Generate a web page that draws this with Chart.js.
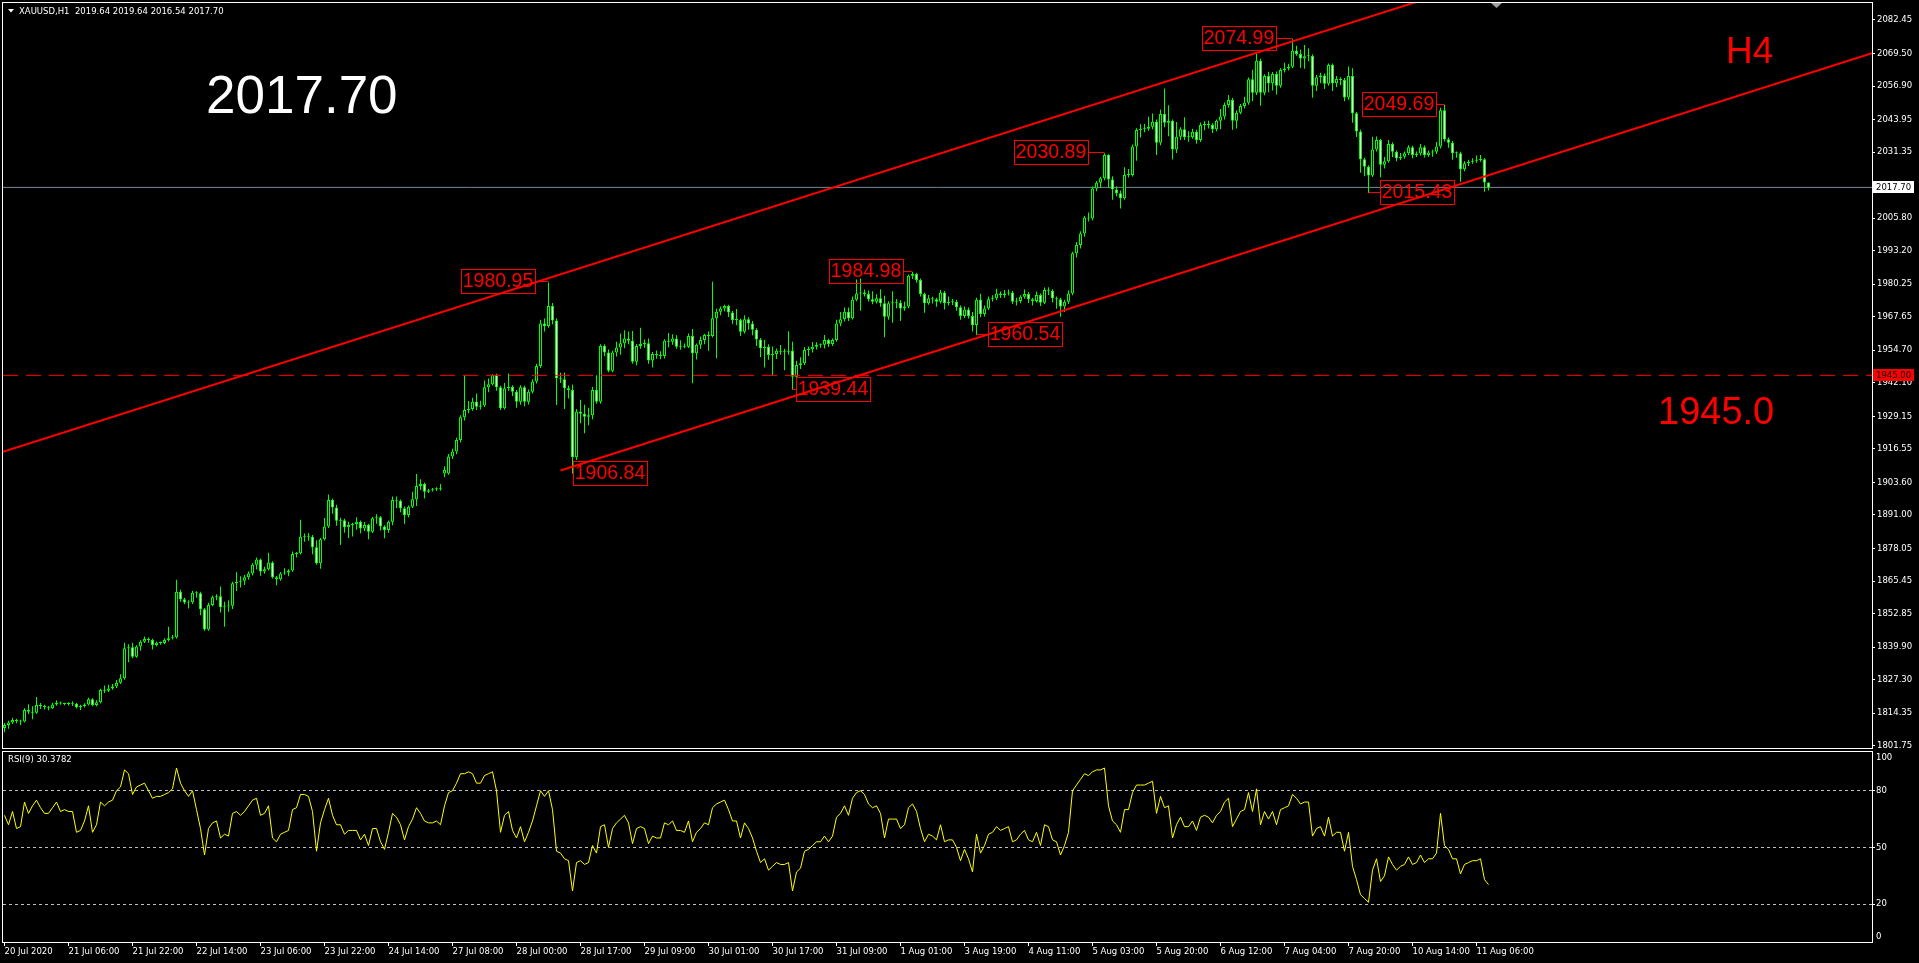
<!DOCTYPE html>
<html>
<head>
<meta charset="utf-8">
<title>XAUUSD,H1</title>
<script src="https://cdn.jsdelivr.net/npm/chart.js@4.4.1/dist/chart.umd.min.js"></script>
<style>
  html, body { margin: 0; padding: 0; background: #000; overflow: hidden; }
  #wrap { position: relative; width: 1919px; height: 963px; }
  #priceChart { position: absolute; left: 0; top: 0; }
  #rsiChart { position: absolute; left: 0; top: 750px; }
</style>
</head>
<body>
<div id="wrap">
  <canvas id="priceChart" width="1919" height="750"></canvas>
  <canvas id="rsiChart" width="1919" height="213"></canvas>
</div>
<script>
// H1 candles, bar 0 = 20 Jul 2020
const opens = [
  1808.6,1809.8,1810.7,1811.7,1811.3,1811.1,1815.6,1814.9,1814.5,1817.5,1817.1,1816.6,
  1816.2,1817.7,1818.4,1818.1,1817.9,1818.1,1818.0,1816.6,1817.1,1817.7,1819.7,1817.5,
  1818.6,1823.3,1823.0,1823.9,1824.6,1826.1,1827.8,1839.4,1839.8,1836.2,1840.1,1842.0,
  1843.0,1842.6,1840.7,1841.6,1841.5,1842.6,1843.3,1843.7,1861.3,1858.4,1857.1,1857.2,
  1860.9,1860.7,1854.5,1846.7,1856.2,1859.2,1859.6,1855.3,1855.6,1855.9,1864.6,1865.2,
  1865.6,1866.9,1868.4,1871.7,1873.8,1869.1,1870.0,1872.6,1866.9,1866.1,1868.4,1868.7,
  1869.5,1875.9,1876.2,1882.6,1882.8,1882.6,1878.5,1872.3,1881.6,1886.5,1896.8,1893.9,
  1888.8,1889.0,1886.2,1887.1,1887.5,1888.4,1885.8,1887.1,1884.5,1889.7,1890.1,1886.5,
  1885.2,1888.4,1896.8,1896.5,1893.6,1891.0,1894.2,1897.1,1902.2,1903.0,1900.0,1900.6,
  1900.9,1901.2,1907.0,1907.0,1913.6,1915.5,1920.0,1928.8,1931.6,1932.0,1934.8,1932.9,
  1933.3,1940.4,1941.6,1945.1,1940.4,1932.3,1940.0,1940.5,1938.7,1934.8,1940.4,1934.8,
  1938.7,1942.6,1948.6,1965.1,1964.1,1971.8,1966.2,1943.9,1943.5,1940.0,1939.3,1913.3,
  1931.0,1930.1,1929.0,1929.6,1939.3,1934.8,1956.4,1953.8,1946.8,1953.8,1955.8,1957.4,
  1959.3,1958.4,1950.3,1956.4,1957.1,1957.4,1950.7,1953.3,1952.9,1952.5,1958.4,1958.0,
  1959.3,1956.1,1956.4,1956.1,1960.2,1953.5,1956.8,1958.7,1960.6,1960.2,1967.1,1969.6,
  1970.9,1971.8,1969.3,1966.4,1966.4,1961.9,1966.7,1965.1,1962.6,1958.9,1955.5,1956.1,
  1952.9,1953.3,1954.5,1954.1,1954.1,1954.5,1944.5,1949.0,1949.7,1954.8,1955.1,1956.1,
  1956.8,1956.8,1958.7,1957.1,1958.7,1965.1,1966.7,1969.6,1967.1,1974.2,1976.7,1977.0,
  1976.5,1974.4,1973.5,1974.8,1972.9,1967.7,1972.9,1973.1,1973.1,1970.9,1971.6,1983.5,
  1984.2,1981.9,1976.5,1972.9,1974.8,1974.4,1973.5,1977.0,1972.9,1973.5,1973.5,1971.3,
  1968.0,1970.5,1968.0,1964.5,1974.2,1968.7,1970.9,1974.4,1974.8,1976.7,1976.1,1976.7,
  1977.0,1973.5,1973.8,1975.4,1976.5,1974.4,1973.8,1976.1,1973.1,1978.0,1977.7,1974.8,
  1974.4,1971.6,1973.5,1976.7,1992.2,1995.4,1999.9,2006.1,2005.7,2017.3,2019.5,2021.2,
  2030.2,2020.8,2016.9,2015.4,2013.5,2022.5,2022.5,2033.5,2039.9,2040.2,2040.4,2041.2,
  2043.1,2035.0,2046.1,2042.7,2043.5,2032.4,2037.3,2040.2,2037.1,2037.1,2039.2,2036.0,
  2041.8,2042.2,2041.8,2040.2,2043.5,2045.1,2049.6,2051.5,2043.5,2046.6,2049.2,2050.4,
  2059.5,2054.3,2066.7,2054.3,2060.8,2058.0,2061.6,2057.0,2063.1,2063.7,2064.4,2070.6,
  2069.3,2067.6,2068.4,2068.5,2057.0,2060.3,2061.0,2057.8,2065.0,2058.0,2059.6,2059.2,
  2052.5,2060.8,2046.4,2039.3,2028.6,2025.7,2022.3,2032.4,2036.0,2026.5,2027.8,2034.5,
  2031.5,2029.0,2029.6,2030.9,2033.2,2030.2,2030.8,2033.2,2030.2,2031.2,2031.5,2033.5,
  2047.5,2036.3,2035.0,2030.9,2030.9,2024.7,2027.0,2027.6,2028.0,2028.3,2028.6,2019.64
];
const highs = [
  1810.5,1811.4,1812.6,1812.2,1811.8,1816.2,1817.8,1817.0,1820.6,1818.3,1817.6,1817.1,
  1818.4,1819.3,1818.8,1818.4,1818.6,1818.9,1818.4,1817.6,1818.2,1820.3,1820.1,1819.3,
  1823.8,1825.0,1825.3,1825.6,1827.2,1829.4,1841.6,1841.0,1841.6,1840.6,1842.5,1844.0,
  1843.6,1843.1,1842.1,1842.1,1843.3,1847.8,1844.6,1865.9,1862.1,1859.0,1858.0,1861.7,
  1861.5,1861.3,1855.0,1857.0,1859.8,1860.3,1863.3,1857.4,1858.0,1865.2,1868.8,1867.3,
  1867.8,1869.1,1872.3,1874.5,1874.2,1871.0,1876.4,1873.1,1867.4,1868.9,1870.4,1870.0,
  1876.9,1876.7,1889.1,1883.8,1884.0,1883.2,1881.2,1882.1,1889.8,1898.9,1897.3,1894.9,
  1889.9,1889.5,1888.4,1888.0,1890.1,1888.9,1888.3,1887.6,1890.2,1891.3,1890.6,1887.0,
  1888.9,1898.1,1898.1,1897.0,1894.3,1894.7,1900.0,1906.8,1904.8,1903.6,1901.1,1901.4,
  1901.7,1903.0,1909.8,1914.6,1916.6,1920.9,1929.6,1945.1,1935.1,1936.3,1938.0,1935.2,
  1943.0,1943.8,1945.4,1945.6,1941.0,1942.0,1945.7,1941.2,1939.3,1941.2,1941.0,1939.5,
  1943.5,1949.5,1966.5,1967.0,1980.95,1973.0,1967.0,1946.0,1946.1,1941.1,1941.5,1932.0,
  1935.6,1933.6,1932.5,1940.5,1945.0,1957.0,1957.0,1955.0,1954.5,1958.0,1961.2,1962.4,
  1962.0,1962.2,1957.1,1963.4,1958.9,1959.3,1954.0,1954.6,1954.3,1959.0,1961.4,1960.9,
  1960.5,1958.6,1957.3,1961.2,1962.9,1957.3,1960.0,1961.1,1962.0,1981.2,1970.8,1971.6,
  1972.3,1972.3,1970.0,1970.7,1967.0,1968.2,1967.5,1966.0,1963.2,1959.4,1958.8,1957.0,
  1956.2,1955.4,1956.7,1955.3,1962.1,1958.0,1950.6,1952.0,1956.0,1956.2,1957.9,1957.8,
  1957.3,1960.6,1959.2,1959.3,1966.5,1969.5,1971.2,1971.2,1975.5,1982.1,1982.5,1978.2,
  1977.8,1977.5,1976.4,1978.3,1975.8,1973.7,1977.5,1974.5,1974.0,1973.5,1984.0,1984.98,
  1984.7,1982.5,1977.0,1976.1,1975.4,1975.0,1978.0,1977.6,1975.5,1974.5,1974.2,1972.0,
  1971.6,1971.2,1969.5,1975.0,1976.6,1972.0,1975.5,1976.0,1978.5,1977.4,1978.0,1978.2,
  1977.6,1975.0,1976.0,1978.2,1977.2,1975.0,1977.4,1976.7,1979.0,1979.1,1978.3,1975.5,
  1975.0,1974.2,1977.8,1992.8,1996.6,2000.7,2006.6,2008.0,2018.0,2020.2,2021.8,2030.89,
  2030.5,2022.0,2018.0,2016.5,2025.5,2024.8,2034.3,2040.6,2042.1,2042.2,2045.0,2046.3,
  2044.0,2047.8,2056.0,2049.5,2044.0,2043.0,2041.0,2044.8,2039.4,2040.4,2040.0,2042.8,
  2043.3,2043.5,2042.5,2044.0,2048.0,2050.5,2053.4,2052.4,2047.4,2050.0,2052.8,2060.2,
  2063.2,2069.5,2067.5,2061.5,2062.4,2062.3,2062.5,2063.8,2065.9,2065.5,2074.99,2072.5,
  2071.0,2072.8,2071.5,2069.2,2061.2,2062.0,2061.8,2065.6,2065.6,2060.8,2060.3,2060.0,
  2064.5,2063.8,2046.9,2040.0,2029.2,2026.3,2037.3,2037.4,2036.4,2029.5,2036.0,2035.2,
  2032.0,2031.0,2031.6,2034.0,2033.8,2031.6,2034.5,2033.9,2032.0,2032.3,2035.3,2048.5,
  2049.69,2037.0,2035.6,2031.6,2031.5,2027.8,2028.4,2029.0,2030.0,2030.2,2029.0,2019.64
];
const lows = [
  1807.0,1808.3,1810.1,1810.4,1809.7,1810.8,1814.0,1812.0,1814.1,1815.9,1815.8,1815.5,
  1815.9,1817.2,1817.6,1817.4,1817.3,1817.1,1816.1,1815.6,1816.5,1817.3,1817.0,1817.0,
  1818.1,1822.1,1822.5,1823.4,1824.1,1825.6,1827.3,1834.0,1835.6,1835.8,1838.5,1841.5,
  1841.6,1839.0,1840.2,1840.8,1841.0,1842.1,1842.8,1843.2,1857.4,1856.5,1854.8,1856.6,
  1859.0,1852.2,1846.2,1846.2,1855.7,1858.0,1853.3,1847.8,1853.6,1854.6,1861.6,1862.9,
  1863.9,1865.9,1867.6,1869.9,1867.5,1868.3,1869.5,1866.4,1863.8,1865.6,1867.9,1867.3,
  1869.0,1874.5,1875.7,1880.6,1881.0,1875.8,1871.7,1870.2,1881.1,1886.0,1891.5,1886.8,
  1879.4,1884.1,1882.1,1882.7,1885.3,1883.9,1884.8,1881.6,1884.0,1887.6,1885.0,1882.0,
  1884.1,1887.0,1893.6,1892.0,1887.6,1890.0,1893.7,1894.5,1900.7,1897.4,1899.5,1900.1,
  1900.3,1900.4,1905.6,1906.6,1912.6,1914.5,1919.0,1927.5,1930.3,1931.3,1931.6,1931.8,
  1932.8,1938.5,1941.1,1939.0,1931.6,1931.8,1939.0,1937.0,1932.5,1933.6,1933.0,1933.7,
  1938.0,1941.8,1947.8,1962.0,1963.4,1964.8,1933.5,1942.0,1932.0,1936.0,1906.84,1912.3,
  1926.5,1922.6,1925.7,1928.0,1934.0,1934.0,1952.5,1946.2,1946.2,1952.3,1953.0,1955.5,
  1957.0,1949.5,1948.9,1955.3,1955.7,1949.5,1948.0,1951.4,1951.2,1951.5,1955.9,1956.8,
  1955.3,1954.9,1955.5,1955.6,1941.9,1951.1,1955.2,1957.0,1954.5,1959.6,1951.6,1968.2,
  1969.8,1967.6,1965.0,1964.4,1960.2,1961.2,1962.6,1960.5,1956.4,1952.0,1948.0,1951.0,
  1945.0,1951.3,1953.0,1947.0,1953.0,1939.44,1943.8,1947.5,1949.0,1952.5,1953.8,1955.0,
  1955.7,1955.4,1956.0,1956.4,1958.0,1964.0,1965.8,1966.0,1966.6,1973.7,1970.0,1975.5,
  1973.6,1972.5,1972.8,1971.5,1959.7,1966.5,1965.3,1971.0,1966.0,1970.0,1971.0,1982.3,
  1980.8,1975.5,1969.2,1972.3,1972.8,1971.5,1972.8,1970.5,1972.0,1972.2,1970.0,1966.5,
  1967.2,1967.0,1962.0,1960.54,1967.5,1967.8,1970.3,1973.6,1974.0,1974.9,1975.0,1975.9,
  1972.6,1972.0,1972.9,1974.6,1973.0,1972.0,1973.2,1971.8,1972.6,1976.1,1973.2,1970.8,
  1967.7,1969.5,1972.6,1976.0,1990.6,1994.1,1998.6,2004.5,2005.0,2016.2,2017.6,2020.5,
  2017.6,2012.9,2014.3,2009.5,2012.9,2021.5,2021.9,2028.0,2037.0,2039.0,2039.6,2040.2,
  2030.2,2034.0,2041.0,2037.5,2028.5,2031.0,2036.0,2036.0,2035.4,2036.5,2034.6,2035.3,
  2039.8,2040.5,2038.7,2039.4,2040.2,2044.0,2048.5,2040.0,2040.5,2046.0,2048.2,2049.7,
  2051.0,2053.4,2049.3,2053.3,2054.5,2055.2,2053.6,2056.2,2062.1,2062.9,2063.8,2068.6,
  2064.0,2063.6,2066.5,2052.4,2055.0,2058.0,2055.8,2057.0,2055.0,2056.4,2057.2,2051.0,
  2051.6,2042.7,2037.2,2023.4,2022.0,2015.43,2021.7,2031.6,2021.6,2025.0,2027.2,2029.4,
  2027.8,2028.3,2028.8,2030.1,2029.0,2029.5,2030.0,2029.3,2029.6,2029.6,2030.6,2032.7,
  2035.5,2033.0,2028.4,2029.2,2019.9,2023.9,2026.0,2026.8,2027.2,2027.6,2016.0,2016.54
];
const closes = [
  1809.8,1810.7,1811.7,1811.3,1811.1,1815.6,1814.9,1814.5,1817.5,1817.1,1816.6,1816.2,
  1817.7,1818.4,1818.1,1817.9,1818.1,1818.0,1816.6,1817.1,1817.7,1819.7,1817.5,1818.6,
  1823.3,1823.0,1823.9,1824.6,1826.1,1827.8,1839.4,1839.8,1836.2,1840.1,1842.0,1843.0,
  1842.6,1840.7,1841.6,1841.5,1842.6,1843.3,1843.7,1861.3,1858.4,1857.1,1857.2,1860.9,
  1860.7,1854.5,1846.7,1856.2,1859.2,1859.6,1855.3,1855.6,1855.9,1864.6,1865.2,1865.6,
  1866.9,1868.4,1871.7,1873.8,1869.1,1870.0,1872.6,1866.9,1866.1,1868.4,1868.7,1869.5,
  1875.9,1876.2,1882.6,1882.8,1882.6,1878.5,1872.3,1881.6,1886.5,1896.8,1893.9,1888.8,
  1889.0,1886.2,1887.1,1887.5,1888.4,1885.8,1887.1,1884.5,1889.7,1890.1,1886.5,1885.2,
  1888.4,1896.8,1896.5,1893.6,1891.0,1894.2,1897.1,1902.2,1903.0,1900.0,1900.6,1900.9,
  1901.2,1900.9,1908.4,1913.6,1915.5,1920.0,1928.8,1931.6,1932.0,1934.8,1932.9,1933.3,
  1940.4,1941.6,1945.1,1940.4,1932.3,1940.0,1940.5,1938.7,1934.8,1940.4,1934.8,1938.7,
  1942.6,1948.6,1965.1,1964.1,1971.8,1966.2,1943.9,1943.5,1940.0,1939.3,1913.3,1931.0,
  1930.1,1929.0,1929.6,1939.3,1934.8,1956.4,1953.8,1946.8,1953.8,1955.8,1957.4,1959.3,
  1958.4,1950.3,1956.4,1957.1,1957.4,1950.7,1953.3,1952.9,1952.5,1958.4,1958.0,1959.3,
  1956.1,1956.4,1956.1,1960.2,1953.5,1956.8,1958.7,1960.6,1960.2,1967.1,1969.6,1970.9,
  1971.8,1969.3,1966.4,1966.4,1961.9,1966.7,1965.1,1962.6,1958.9,1955.5,1956.1,1952.9,
  1953.3,1954.5,1954.1,1954.1,1954.5,1944.5,1949.0,1949.7,1954.8,1955.1,1956.1,1956.8,
  1956.8,1958.7,1957.1,1958.7,1965.1,1966.7,1969.6,1967.1,1974.2,1976.7,1977.0,1976.5,
  1974.4,1973.5,1974.8,1972.9,1967.7,1972.9,1973.1,1973.1,1970.9,1971.6,1983.5,1984.2,
  1981.9,1976.5,1972.9,1974.8,1974.4,1973.5,1977.0,1972.9,1973.5,1973.5,1971.3,1968.0,
  1970.5,1968.0,1964.5,1974.2,1968.7,1970.9,1974.4,1974.8,1976.7,1976.1,1976.7,1977.0,
  1973.5,1973.8,1975.4,1976.5,1974.4,1973.8,1976.1,1973.1,1978.0,1977.7,1974.8,1974.4,
  1971.6,1973.5,1976.7,1992.2,1995.4,1999.9,2006.1,2005.7,2017.3,2019.5,2021.2,2030.2,
  2020.8,2016.9,2015.4,2013.5,2022.5,2022.5,2033.5,2039.9,2040.2,2040.4,2041.2,2043.1,
  2035.0,2046.1,2042.7,2043.5,2032.4,2037.3,2040.2,2037.1,2037.1,2039.2,2036.0,2041.8,
  2042.2,2041.8,2040.2,2043.5,2045.1,2049.6,2051.5,2043.5,2046.6,2049.2,2050.4,2059.5,
  2054.3,2066.7,2054.3,2060.8,2058.0,2061.6,2057.0,2063.1,2063.7,2064.4,2070.6,2069.3,
  2067.6,2068.4,2068.5,2057.0,2060.3,2061.0,2057.8,2065.0,2058.0,2059.6,2059.2,2052.5,
  2060.8,2046.4,2039.3,2028.6,2025.7,2022.3,2032.4,2036.0,2026.5,2027.8,2034.5,2031.5,
  2029.0,2029.6,2030.9,2033.2,2030.2,2030.8,2033.2,2030.2,2031.2,2031.5,2033.5,2047.5,
  2036.3,2035.0,2030.9,2030.9,2024.7,2027.0,2027.6,2028.0,2028.3,2028.6,2019.64,2017.70
];
// RSI(9) per bar
const rsi = [
  67,62,69,60,61,74,68,72,75,71,68,68, 71,74,69,70,69,69,58,59,64,72,58,62,
  74,72,74,75,80,82,91,89,78,82,83,84, 80,76,77,77,78,79,81,92,84,80,77,80,
  70,60,46,60,63,64,55,57,56,68,69,67, 69,72,75,76,67,68,72,55,53,57,58,59,
  70,71,78,78,77,69,48,63,70,76,67,62, 62,57,59,59,59,54,57,51,60,60,53,49,
  58,68,66,62,54,61,65,71,68,64,63,63, 64,62,72,79,80,84,89,89,90,89,84,84,
  88,89,90,80,58,67,69,59,55,61,53,58, 64,72,80,77,80,70,48,47,44,43,27,42,
  43,41,42,51,47,61,62,50,60,63,65,67, 63,52,60,61,60,52,56,55,55,63,62,64,
  59,59,58,64,53,58,60,63,62,71,73,74, 75,70,64,64,55,63,60,55,48,42,44,38,
  40,42,41,41,42,27,37,39,48,49,51,53, 53,56,53,56,66,68,72,67,76,79,80,78,
  73,71,72,68,55,65,65,65,60,62,71,73, 69,60,53,57,56,54,62,53,54,54,50,43,
  49,44,37,57,47,51,57,58,61,59,60,61, 53,54,57,59,54,53,58,51,62,61,54,53,
  46,51,58,80,83,86,89,88,90,91,91,92, 72,64,62,58,70,70,79,83,83,83,84,85,
  68,77,71,72,55,62,66,61,61,64,59,66, 67,66,63,67,69,74,76,61,65,69,70,79,
  69,81,62,69,65,69,62,70,71,72,78,76, 73,74,74,56,60,61,56,66,56,58,58,48,
  58,40,33,25,23,21,38,44,32,35,45,41, 38,40,41,45,41,42,46,42,44,44,47,68,
  51,49,44,44,36,41,42,43,43,44,33,30.3782
];

const timeLabels = ['20 Jul 2020','21 Jul 06:00','21 Jul 22:00','22 Jul 14:00','23 Jul 06:00','23 Jul 22:00',
  '24 Jul 14:00','27 Jul 08:00','28 Jul 00:00','28 Jul 17:00','29 Jul 09:00','30 Jul 01:00','30 Jul 17:00',
  '31 Jul 09:00','1 Aug 01:00','3 Aug 19:00','4 Aug 11:00','5 Aug 03:00','5 Aug 20:00','6 Aug 12:00',
  '7 Aug 04:00','7 Aug 20:00','10 Aug 14:00','11 Aug 06:00'];
const priceTicks = [2082.45,2069.50,2056.90,2043.95,2031.35,2005.80,1993.20,1980.25,1967.65,1954.70,
  1942.10,1929.15,1916.55,1903.60,1891.00,1878.05,1865.45,1852.85,1839.90,1827.30,1814.35,1801.75];
const rsiLevels = [20, 50, 80];

// swing labels (bar, price)
const markBars   = [136, 142, 197, 227, 243, 275, 322, 341, 360];
const markPrices = [1980.95, 1906.84, 1939.44, 1984.98, 1960.54, 2030.89, 2074.99, 2015.43, 2049.69];
// channel lines as [bar, price] pairs
const upperTrend = [[-0.375, 1915.4], [360, 2092.9]];
const lowerTrend = [[139, 1908.2], [466.875, 2069.6]];
const levelPrice = 1945.00;
const lastPrice = 2017.70;

// layout bits
const markSide = ['left', 'right', 'right', 'left', 'right', 'left', 'left', 'right', 'left'];
const markGap  = [14, 0, 3, 10, 12, 17, 17, 11, 9];
const xMin = -0.375, xMax = 466.875;
const FONT = '"Liberation Sans", Arial, sans-serif';
const AXIS_FONT = '"DejaVu Sans", Verdana, sans-serif';

Chart.defaults.font.family = AXIS_FONT;
Chart.defaults.color = '#ffffff';

function pts(pairs) {
    return pairs.map(p => ({ x: p[0], y: p[1] }));
}

// swing labels, frame, axis tags, texts
const priceDecor = {
    id: 'priceDecor',
    afterDatasetsDraw(chart) {
        const { ctx, scales: { x, y } } = chart;
        ctx.save();
        ctx.font = '19.5px ' + FONT;
        ctx.textAlign = 'center';
        ctx.textBaseline = 'middle';
        ctx.strokeStyle = '#ff0000';
        ctx.fillStyle = '#ff0000';
        ctx.lineWidth = 1;
        markPrices.forEach((p, k) => {
            const px = x.getPixelForValue(markBars[k]);
            const cy = Math.round(y.getPixelForValue(p)) - 1;
            const w = 74, h = 24;
            let bx, edge;
            if (markSide[k] === 'left') {
                bx = Math.round(px - markGap[k] - w);
                edge = bx + w;
            } else {
                bx = Math.round(px + markGap[k]);
                edge = bx;
            }
            ctx.beginPath();
            ctx.moveTo(px, cy + 0.5);
            ctx.lineTo(edge, cy + 0.5);
            ctx.stroke();
            ctx.strokeRect(bx + 0.5, cy - 12 + 0.5, w, h);
            ctx.fillText(p.toFixed(2), bx + w / 2, cy + 1);
        });
        ctx.restore();
    },
    afterDraw(chart) {
        const { ctx, chartArea: a, scales: { y } } = chart;
        ctx.save();
        ctx.strokeStyle = '#ffffff';
        ctx.lineWidth = 1;
        ctx.strokeRect(a.left - 0.5, a.top + 0.5, a.right - a.left + 1, a.bottom - a.top);

        // price tags on the axis
        ctx.font = '8.5px ' + AXIS_FONT;
        ctx.textBaseline = 'middle';
        ctx.textAlign = 'left';
        [[lastPrice, '#ffffff'], [levelPrice, '#ff0000']].forEach(([v, bg]) => {
            const yy = Math.round(y.getPixelForValue(v));
            ctx.fillStyle = bg;
            ctx.fillRect(a.right + 1, yy - 6, 41, 12);
            ctx.fillStyle = '#000000';
            ctx.fillText(v.toFixed(2), a.right + 4, yy + 0.5);
        });

        // header
        ctx.fillStyle = '#ffffff';
        ctx.textBaseline = 'alphabetic';
        ctx.fillText('XAUUSD,H1  2019.64 2019.64 2016.54 2017.70', 19, 14);
        ctx.beginPath();
        ctx.moveTo(8, 9); ctx.lineTo(14, 9); ctx.lineTo(11, 12.5); ctx.closePath();
        ctx.fill();

        // chart shift marker
        ctx.fillStyle = '#a0a0a0';
        ctx.beginPath();
        ctx.moveTo(1491, 3); ctx.lineTo(1502, 3); ctx.lineTo(1496.5, 8); ctx.closePath();
        ctx.fill();

        // text objects
        ctx.fillStyle = '#ffffff';
        ctx.font = '53px ' + FONT;
        ctx.fillText('2017.70', 206, 113);
        ctx.fillStyle = '#ff0000';
        ctx.font = '37px ' + FONT;
        ctx.fillText('H4', 1726, 63);
        ctx.font = '38px ' + FONT;
        ctx.fillText('1945.0', 1658, 424);
        ctx.restore();
    }
};

new Chart(document.getElementById('priceChart'), {
    type: 'bar',
    data: {
        datasets: [
            {
                label: 'Bid',
                type: 'line',
                data: pts([[xMin, lastPrice], [xMax, lastPrice]]),
                borderColor: '#778899',
                borderWidth: 1,
                pointRadius: 0,
                clip: 0,
                order: 5
            },
            {
                label: 'Wicks',
                data: closes.map((c, i) => ({ x: i, y: [lows[i], highs[i]] })),
                backgroundColor: '#00ff00',
                barThickness: 1,
                grouped: false,
                inflateAmount: 0,
                order: 4
            },
            {
                label: 'Bodies',
                data: closes.map((c, i) => ({ x: i, y: [opens[i], c] })),
                backgroundColor: closes.map((c, i) => c >= opens[i] ? '#000000' : '#ffffff'),
                borderColor: '#00ff00',
                borderWidth: 1,
                borderSkipped: false,
                barThickness: 3,
                grouped: false,
                inflateAmount: 0,
                minBarLength: 1,
                order: 3
            },
            {
                label: 'Level',
                type: 'line',
                data: pts([[xMin, levelPrice], [xMax, levelPrice]]),
                borderColor: '#ff0000',
                borderWidth: 1,
                borderDash: [15, 8],
                pointRadius: 0,
                clip: 0,
                order: 2
            },
            {
                label: 'Upper',
                type: 'line',
                data: pts(upperTrend),
                borderColor: '#ff0000',
                borderWidth: 2,
                pointRadius: 0,
                clip: 0,
                order: 1
            },
            {
                label: 'Lower',
                type: 'line',
                data: pts(lowerTrend),
                borderColor: '#ff0000',
                borderWidth: 2,
                pointRadius: 0,
                clip: 0,
                order: 1
            }
        ]
    },
    options: {
        responsive: false,
        animation: false,
        events: [],
        layout: { padding: { left: 3, top: 2, right: 0, bottom: 2 } },
        plugins: { legend: { display: false }, tooltip: { enabled: false } },
        scales: {
            x: {
                type: 'linear',
                min: xMin,
                max: xMax,
                offset: false,
                display: false,
                grid: { offset: false }
            },
            y: {
                position: 'right',
                min: 1800.86,
                max: 2089.41,
                afterBuildTicks: s => { s.ticks = priceTicks.map(v => ({ value: v })); },
                afterFit: s => { s.width = 47; s.paddingTop = 0; s.paddingBottom = 0; },
                border: { display: false },
                grid: { drawOnChartArea: false, drawTicks: true, tickLength: 3, color: '#ffffff' },
                ticks: {
                    autoSkip: false,
                    padding: 2,
                    color: '#ffffff',
                    font: { size: 8.5 },
                    callback: v => v.toFixed(2)
                }
            }
        }
    },
    plugins: [priceDecor]
});

// RSI panel
const rsiDecor = {
    id: 'rsiDecor',
    afterDraw(chart) {
        const { ctx, chartArea: a } = chart;
        ctx.save();
        ctx.strokeStyle = '#ffffff';
        ctx.lineWidth = 1;
        ctx.strokeRect(a.left - 0.5, a.top + 0.5, a.right - a.left + 1, a.bottom - a.top);
        ctx.fillStyle = '#ffffff';
        ctx.font = '8.5px ' + AXIS_FONT;
        ctx.textBaseline = 'middle';
        ctx.fillText('RSI(9) ' + rsi[rsi.length - 1].toFixed(4), 8, a.top + 9);
        ctx.fillText('100', a.right + 4, a.top + 6.5);
        ctx.fillText('0', a.right + 4, a.bottom - 5);
        ctx.restore();
    }
};

new Chart(document.getElementById('rsiChart'), {
    type: 'line',
    data: {
        datasets: [{
            label: 'RSI(9)',
            data: rsi.map((v, i) => ({ x: i, y: v })),
            borderColor: '#ffff00',
            borderWidth: 1,
            pointRadius: 0,
            tension: 0,
            clip: 0
        }]
    },
    options: {
        responsive: false,
        animation: false,
        events: [],
        layout: { padding: { left: 3, top: 1, right: 0, bottom: 0 } },
        plugins: { legend: { display: false }, tooltip: { enabled: false } },
        scales: {
            x: {
                type: 'linear',
                min: xMin,
                max: xMax,
                offset: false,
                afterBuildTicks: s => { s.ticks = timeLabels.map((t, k) => ({ value: k * 16 })); },
                afterFit: s => { s.height = 21; s.paddingLeft = 0; s.paddingRight = 0; },
                border: { display: false },
                grid: { drawOnChartArea: false, drawTicks: true, tickLength: 4, color: '#ffffff' },
                ticks: {
                    autoSkip: false,
                    maxRotation: 0,
                    align: 'start',
                    padding: 1,
                    color: '#ffffff',
                    font: { size: 8.5 },
                    callback: (v, idx) => timeLabels[idx]
                }
            },
            y: {
                position: 'right',
                min: 0,
                max: 101,
                afterBuildTicks: s => { s.ticks = rsiLevels.map(v => ({ value: v })); },
                afterFit: s => { s.width = 47; s.paddingTop = 0; s.paddingBottom = 0; },
                border: { display: false, dash: [3, 3] },
                grid: { drawOnChartArea: true, drawTicks: true, tickLength: 3, color: '#c0c0c0', tickColor: '#ffffff' },
                ticks: {
                    autoSkip: false,
                    padding: 1,
                    color: '#ffffff',
                    font: { size: 8.5 },
                    callback: v => String(v)
                }
            }
        }
    },
    plugins: [rsiDecor]
});
</script>
</body>
</html>
